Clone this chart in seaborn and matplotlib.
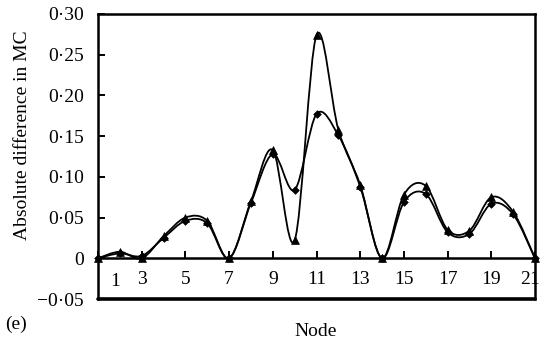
import numpy as np
import pandas as pd
import matplotlib
matplotlib.use("Agg")
import matplotlib.pyplot as plt
from matplotlib.path import Path
from matplotlib.patches import PathPatch
import matplotlib.transforms as mtransforms
import seaborn as sns

# ---- data ----
nodes = list(range(1, 22))
series_tri = [0.000, 0.008, 0.000, 0.027, 0.050, 0.046, 0.000, 0.070, 0.133, 0.022,
              0.274, 0.158, 0.090, 0.000, 0.078, 0.089, 0.035, 0.034, 0.075, 0.057, 0.000]
series_dia = [0.000, 0.006, 0.003, 0.025, 0.046, 0.043, 0.000, 0.068, 0.128, 0.084,
              0.177, 0.151, 0.088, 0.000, 0.069, 0.079, 0.032, 0.030, 0.067, 0.054, 0.000]
xtick_vals = list(range(1, 22, 2))
xtick_labels = [str(v) for v in xtick_vals]
ytick_vals = [-0.05, 0, 0.05, 0.10, 0.15, 0.20, 0.25, 0.30]
ytick_labels = ["\u22120\u00b705", "0", "0\u00b705", "0\u00b710", "0\u00b715",
                "0\u00b720", "0\u00b725", "0\u00b730"]

df = pd.DataFrame({
    "Node": nodes * 2,
    "value": series_tri + series_dia,
    "series": ["tri"] * len(nodes) + ["dia"] * len(nodes),
})

sns.set_theme(style="white")
plt.rcParams["font.family"] = ["Liberation Serif", "DejaVu Serif"]

fig = plt.figure(figsize=(5.41, 3.43), dpi=100)
ax = fig.add_axes([98 / 541, 1 - 299 / 343, (535 - 98) / 541, (299 - 14) / 343])


def smooth_path(xs, ys):
    # Catmull-Rom smoothed line (Excel-like "smoothed line" rendering) as Bezier path
    xs = np.asarray(xs, float)
    ys = np.asarray(ys, float)
    pts = np.column_stack([xs, ys])
    n = len(pts)
    verts = [pts[0]]
    codes = [Path.MOVETO]
    for i in range(n - 1):
        p0 = pts[i - 1] if i > 0 else pts[i]
        p1 = pts[i]
        p2 = pts[i + 1]
        p3 = pts[i + 2] if i + 2 < n else pts[i + 1]
        c1 = p1 + (p2 - p0) / 6.0
        c2 = p2 - (p3 - p1) / 6.0
        verts += [c1, c2, p2]
        codes += [Path.CURVE4] * 3
    return Path(verts, codes)


for name, marker, ms in [("tri", "^", 32), ("dia", "D", 15)]:
    sub = df[df["series"] == name]
    patch = PathPatch(smooth_path(sub["Node"], sub["value"]), facecolor="none",
                      edgecolor="black", lw=1.3, clip_on=False, zorder=3)
    ax.add_patch(patch)
    sns.scatterplot(data=sub, x="Node", y="value", marker=marker, s=ms,
                    color="black", edgecolor="black", linewidth=0.5, ax=ax,
                    zorder=4, legend=False, clip_on=False)

ax.set_xlim(1, 21)
ax.set_ylim(-0.05, 0.30)

# frame
for s in ["left", "right", "top"]:
    ax.spines[s].set_visible(True)
    ax.spines[s].set_color("black")
    ax.spines[s].set_linewidth(1.8)
ax.spines["bottom"].set_position(("data", 0))
ax.spines["bottom"].set_color("black")
ax.spines["bottom"].set_linewidth(1.8)
ax.axhline(-0.05, color="black", lw=2.6, clip_on=False, zorder=5)

ax.set_xticks(xtick_vals)
ax.set_xticklabels(xtick_labels)
ax.set_yticks(ytick_vals)
ax.set_yticklabels(ytick_labels)
ax.tick_params(axis="x", direction="in", length=5, width=1.4, pad=9,
               labelsize=14, colors="black", bottom=True)
ax.tick_params(axis="y", direction="in", length=5, width=1.4, pad=10,
               labelsize=14, colors="black", left=True)
# nudge label "1" away from the left spine, "21" away from the figure edge
labs = ax.get_xticklabels()
labs[0].set_transform(labs[0].get_transform() + mtransforms.ScaledTranslation(17 / 100, -2 / 100, fig.dpi_scale_trans))
labs[-1].set_transform(labs[-1].get_transform() + mtransforms.ScaledTranslation(-5 / 100, 0, fig.dpi_scale_trans))

ax.set_xlabel("")
ax.set_ylabel("")
ax.grid(False)

fig.text(23 / 541, 1 - 135 / 343, "Absolute difference in MC", rotation=90,
         ha="center", va="center", fontsize=14, color="black")
fig.text(316 / 541, 1 - 331 / 343, "Node", ha="center", va="center",
         fontsize=14, color="black")
fig.text(16 / 541, 1 - 324 / 343, "(e)", ha="center", va="center",
         fontsize=14, color="black")

fig.savefig("out.png", dpi=100, facecolor="white")
